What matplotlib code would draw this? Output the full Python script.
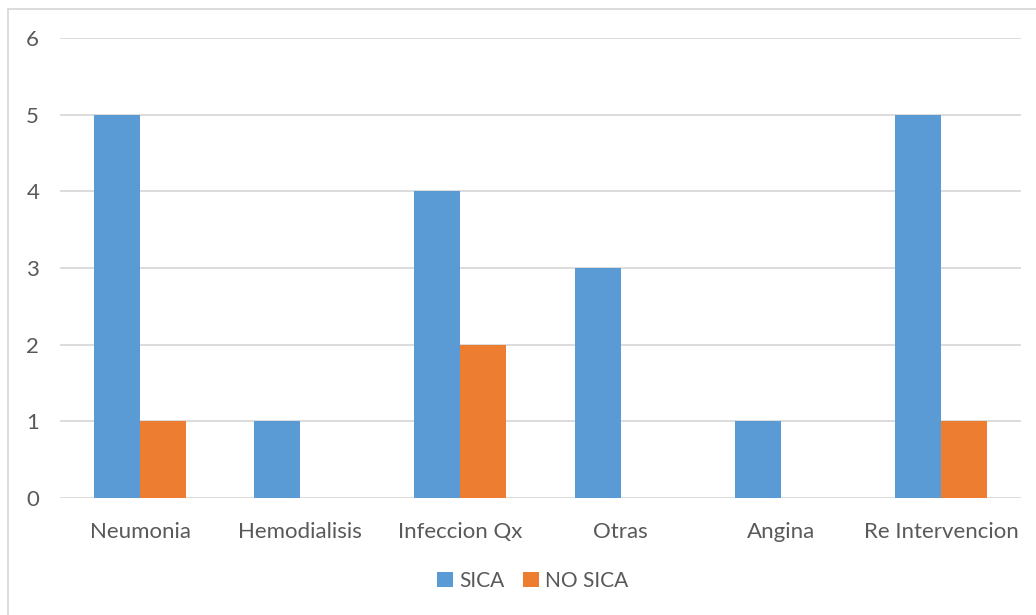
import matplotlib
matplotlib.use("Agg")
import matplotlib.pyplot as plt
import numpy as np

categories = ["Neumonia", "Hemodialisis", "Infeccion Qx", "Otras", "Angina", "Re Intervencion"]
sica = [5, 1, 4, 3, 1, 5]
no_sica = [1, 0, 2, 0, 0, 1]

blue = "#5B9BD5"
orange = "#ED7D31"
txt = "#595959"

plt.rcParams['font.family'] = ['Lato', 'DejaVu Sans']

fig = plt.figure(figsize=(10.36, 6.15), dpi=100)
ax = fig.add_axes([60/1036, 1-498/615, 961/1036, 460/615])

x = np.arange(len(categories))
w = 0.2875
ax.bar(x - w/2, sica, w, color=blue, label="SICA", zorder=3)
ax.bar(x + w/2, no_sica, w, color=orange, label="NO SICA", zorder=3)

ax.set_xlim(-0.5, len(categories) - 0.5)
ax.set_ylim(0, 6)
ax.set_yticks(range(7))
ax.yaxis.grid(True, color="#D9D9D9", linewidth=1.3, zorder=0)
for s in ax.spines.values():
    s.set_visible(False)
ax.tick_params(axis='both', length=0, labelsize=16, colors=txt)
ax.tick_params(axis='y', pad=15)
ax.tick_params(axis='x', pad=17)
ax.set_xticks(x)
ax.set_xticklabels(categories)

leg = fig.legend(loc='center', bbox_to_anchor=(533/1036, 1-581/615), ncol=2, frameon=False,
                 fontsize=15, handlelength=0.75, handleheight=0.75, handletextpad=0.3,
                 columnspacing=0.9)
for t in leg.get_texts():
    t.set_color(txt)

# chart frame (cropped on the right and bottom)
fig.patches.append(plt.Rectangle((8/1036, -0.1), 1.2, 1 - 9/615 + 0.1, transform=fig.transFigure,
                                 fill=False, edgecolor="#D9D9D9", linewidth=1.3))

fig.savefig("out.png", dpi=100)
